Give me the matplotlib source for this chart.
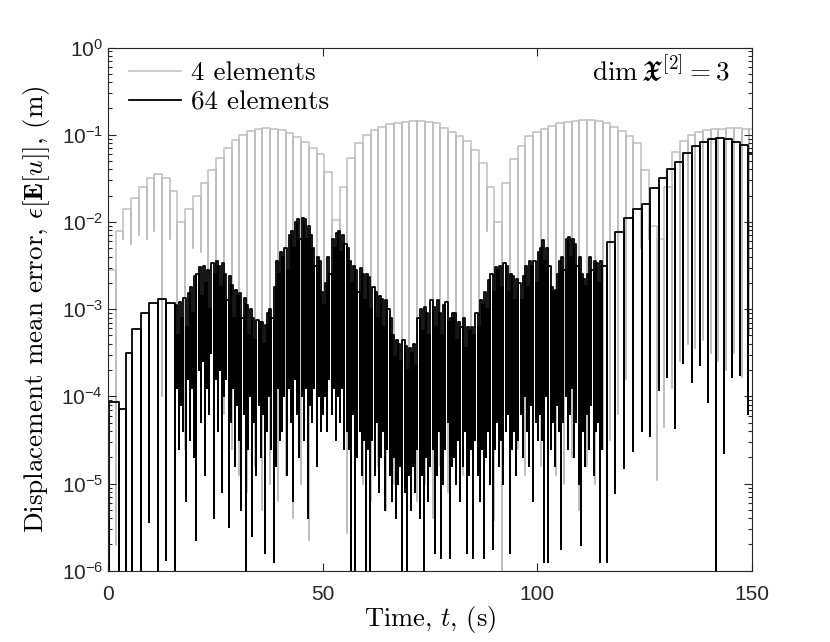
import matplotlib
matplotlib.use("Agg")
import matplotlib.pyplot as plt
import numpy as np

# log10 of the error
# 4 elements: one cap (arch top) and one dip per cycle, cycle length 1.8 s
gray_period = 1.8
gray_caps = [
    -2.55, -2.1, -1.85, -1.72, -1.6, -1.5, -1.45, -1.5, -1.65, -2.0,
    -1.85, -1.7, -1.55, -1.4, -1.27, -1.15, -1.06, -1.0, -0.96, -0.93,
    -0.92, -0.93, -0.95, -0.98, -1.03, -1.08, -1.15, -1.22, -1.43, -1.98,
    -1.6, -1.27, -1.1, -1.0, -0.95, -0.91, -0.88, -0.86, -0.85, -0.84,
    -0.84, -0.85, -0.87, -0.92, -0.97, -1.01, -1.07, -1.17, -1.33, -1.6,
    -2.0, -1.55, -1.28, -1.13, -1.02, -0.97, -0.93, -0.9, -0.87, -0.85,
    -0.84, -0.83, -0.83, -0.84, -0.87, -0.91, -0.96, -1.02, -1.1, -1.4,
    -2.05, -2.2, -1.6, -1.2, -1.07, -1.0, -0.97, -0.95, -0.93, -0.93,
    -0.92, -0.92, -0.93, -0.93,
]
gray_dips = [
    -5.5, -5.7, -2.2, -2.25, -2.15, -2.2, -2.1, -4.0, -2.2, -3.2,
    -4.6, -2.3, -2.35, -2.6, -3.5, -4.2, -4.6, -4.9, -5.1, -4.8,
    -5.3, -5.0, -5.2, -4.9, -5.4, -5.0, -5.65, -4.6, -4.0, -2.2,
    -2.4, -5.57, -4.6, -5.0, -5.2, -4.8, -5.3, -5.0, -5.5, -4.9,
    -5.2, -5.0, -5.4, -4.8, -5.1, -4.7, -4.9, -4.4, -3.2, -2.1,
    -5.42, -6.5, -4.2, -4.6, -4.9, -5.1, -4.8, -5.3, -4.9, -5.0,
    -4.7, -5.3, -4.8, -5.0, -4.6, -4.5, -4.2, -3.8, -3.4, -2.3,
    -2.2, -4.96, -4.35, -3.9, -3.6, -3.4, -3.45, -3.35, -3.5, -3.6,
    -3.7, -3.5, -3.78, -3.3,
]

# 64 elements, first clean arches
black_early_t = [0.0, 0.2, 2.6, 4.3, 5.7, 7.6, 9.6, 11.7, 13.5]
black_early_dips = [-5.4, -6.5, -6.5, -6.5, -6.5, -6.5, -5.44, -6.5, -5.88]
black_early_caps = [-5.4, -4.06, -4.15, -3.5, -3.23, -3.05, -2.93, -2.88, -2.93]

# 64 elements, noisy middle part, one value every 0.5 s from t = 15.6 s
black_mid_start = 15.6
black_mid_step = 0.5
black_mid_caps = [
    -2.95, -3.3, -2.92, -3.1, -2.87, -3.2, -2.82, -2.75, -3.05, -2.62,
    -2.6, -2.52, -2.85, -2.5, -2.7, -2.55, -3.0, -2.47, -2.6, -2.45,
    -2.5, -2.75, -2.47, -2.6, -2.9, -2.62, -2.72, -3.1, -2.78, -2.85,
    -2.82, -3.1, -2.87, -2.95, -3.3, -3.0, -3.1, -3.35, -3.12, -3.15,
    -3.15, -3.4, -3.18, -3.05, -3.0, -3.1, -2.75, -2.45, -2.6, -2.35,
    -2.4, -2.3, -2.55, -2.15, -2.1, -2.3, -2.0, -1.97, -2.2, -1.95,
    -1.97, -2.2, -2.05, -2.15, -2.3, -2.5, -2.4, -2.45, -2.8, -2.95,
    -2.7, -2.4, -2.6, -2.2, -2.3, -2.13, -2.1, -2.35, -2.15, -2.25,
    -2.3, -2.45, -2.7, -2.51, -2.55, -2.8, -2.53, -2.6, -2.9, -2.6,
    -2.63, -3.0, -2.75, -2.8, -3.1, -2.85, -2.88, -3.2, -2.9, -3.0,
    -3.1, -3.3, -3.55, -3.35, -3.4, -3.6, -3.35, -3.42, -3.7, -3.45,
    -3.5, -3.4, -3.65, -3.1, -3.0, -3.25, -2.97, -3.05, -3.3, -2.9,
    -2.97, -3.2, -2.9, -3.05, -3.3, -2.95, -2.92, -3.15, -3.1, -3.05,
    -3.05, -3.35, -3.15, -3.2, -3.1, -3.45, -3.2, -3.25, -3.2, -3.3,
    -3.05, -3.2, -2.9, -2.95, -2.8, -3.0, -2.67, -2.6, -2.8, -2.52,
    -2.55, -2.5, -2.75, -2.47, -2.5, -2.8, -2.6, -2.62, -2.9, -2.65,
    -2.7, -2.9, -2.62, -2.5, -2.75, -2.45, -2.5, -2.45, -2.7, -2.35,
    -2.3, -2.21, -2.45, -2.3, -2.5, -2.75, -2.8, -2.78, -2.6, -2.45,
    -2.4, -2.55, -2.2, -2.17, -2.4, -2.2, -2.25, -2.5, -2.4, -2.6,
    -2.65, -2.74, -2.6, -2.4, -2.55, -2.45, -2.47, -2.7, -2.45, -2.5,
]
black_mid_dips = [
    -6.5, -3.9, -4.6, -4.1, -4.4, -5.2, -3.8, -4.5, -3.9, -4.7,
    -5.65, -3.7, -4.3, -3.6, -4.9, -3.9, -4.2, -3.5, -5.4, -3.8,
    -4.4, -3.7, -5.1, -4.0, -3.8, -5.5, -4.3, -3.9, -4.8, -4.1,
    -4.5, -5.3, -4.2, -6.5, -4.6, -4.0, -5.6, -4.3, -4.9, -4.1,
    -4.7, -4.2, -5.8, -4.4, -4.0, -4.6, -5.9, -4.8, -3.9, -4.5,
    -4.4, -4.0, -4.9, -3.9, -4.3, -5.2, -3.8, -4.2, -4.7, -4.0,
    -4.5, -3.9, -5.4, -4.1, -4.3, -3.9, -4.8, -4.0, -4.4, -4.2,
    -4.0, -4.4, -3.8, -4.2, -3.9, -4.5, -4.0, -4.3, -3.9, -4.6,
    -4.4, -4.6, -6.5, -4.2, -6.5, -4.7, -4.4, -4.9, -4.5, -6.5,
    -4.6, -6.5, -4.5, -4.9, -4.3, -5.1, -4.7, -4.4, -5.3, -4.6,
    -4.9, -5.2, -4.7, -5.4, -5.0, -4.8, -6.5, -5.1, -6.5, -4.9,
    -5.3, -4.8, -5.1, -4.6, -5.4, -4.9, -6.5, -4.7, -5.2, -4.8,
    -4.6, -5.8, -4.9, -4.4, -5.85, -5.0, -4.6, -4.3, -5.85, -4.8,
    -4.7, -5.0, -4.5, -5.2, -4.8, -4.4, -5.8, -4.9, -4.6, -5.85,
    -4.5, -4.9, -5.2, -4.6, -5.85, -4.7, -4.4, -5.0, -5.75, -4.6,
    -4.3, -4.8, -4.5, -5.0, -4.4, -4.2, -5.8, -4.6, -4.4, -4.9,
    -4.5, -4.2, -4.7, -4.0, -4.4, -4.8, -4.1, -5.2, -4.3, -4.5,
    -4.2, -4.5, -5.9, -4.0, -5.9, -4.6, -4.3, -4.8, -4.1, -4.4,
    -5.75, -4.3, -4.0, -4.6, -4.2, -3.9, -4.7, -4.3, -5.0, -5.7,
    -4.4, -4.8, -4.2, -4.6, -4.1, -4.9, -4.4, -4.3, -5.9, -4.6,
]

# 64 elements, clean growing arches at the end
black_end_t = [116.2, 118.1, 120.2, 122.2, 124.3, 126.2, 128.3, 130.2, 132.1,
               134.0, 136.0, 137.9, 139.8, 141.6, 143.5, 145.4, 147.2, 149.0]
black_end_dips = [-5.9, -5.11, -4.82, -4.63, -4.4, -4.46, -3.93, -3.78, -4.36,
                  -3.62, -3.83, -3.64, -4.06, -6.5, -4.65, -3.78, -3.75, -4.2]
black_end_caps = [-2.23, -2.11, -1.96, -1.85, -1.79, -1.61, -1.5, -1.39, -1.31,
                  -1.21, -1.13, -1.08, -1.05, -1.04, -1.05, -1.08, -1.12, -1.21]

t_end = 150.5


def comb(dip_t, dips, caps):
    # each cycle: drop to the dip, then hold the arch top until the next dip
    xs, ys = [], []
    for t, d, c in zip(dip_t, dips, caps):
        xs += [t, t]
        ys += [d, c]
    xs.append(t_end)
    ys.append(caps[-1])
    return np.array(xs), 10.0 ** np.array(ys)


gray_t = np.arange(len(gray_caps)) * gray_period
black_mid_t = black_mid_start + np.arange(len(black_mid_caps)) * black_mid_step

black_t = list(black_early_t) + list(black_mid_t) + black_end_t
black_dips = black_early_dips + black_mid_dips + black_end_dips
black_caps = black_early_caps + black_mid_caps + black_end_caps

plt.rcParams["font.family"] = ["Liberation Sans", "DejaVu Sans"]
serif = dict(family="cmr10", math_fontfamily="cm")
axis_col = "#262626"
fs = 19.5

fig = plt.figure(figsize=(8.3, 6.42), dpi=100)
ax = fig.add_axes([0.130, 0.111, 0.776, 0.815])

gx, gy = comb(gray_t, gray_dips, gray_caps)
bx, by = comb(black_t, black_dips, black_caps)
ax.plot(gx, gy, color="#bfbfbf", lw=1.1, drawstyle="steps-post", label="4 elements", zorder=1)
ax.plot(bx, by, color="black", lw=1.3, drawstyle="steps-post", label="64 elements", zorder=2)

ax.set_yscale("log")
ax.set_xlim(0, 150)
ax.set_ylim(1e-6, 1e0)
ax.set_xticks([0, 50, 100, 150])
ax.set_yticks([1e-6, 1e-5, 1e-4, 1e-3, 1e-2, 1e-1, 1e0])

ax.tick_params(which="both", direction="in", top=True, right=True,
               colors=axis_col, labelsize=15, width=0.8)
ax.tick_params(which="major", length=6)
ax.tick_params(which="minor", length=3)
ax.tick_params(axis="x", pad=10)
for s in ax.spines.values():
    s.set_color(axis_col)
    s.set_linewidth(0.8)

ax.set_xlabel(r"Time, $t$, (s)", fontsize=19, labelpad=0, **serif)
ax.set_ylabel(r"Displacement mean error, $\epsilon[\mathbf{E}[u]]$, (m)",
              fontsize=fs, labelpad=7, **serif)

ax.text(0.965, 0.985, r"$\dim\mathfrak{X}^{[2]} = 3$", transform=ax.transAxes,
        ha="right", va="top", fontsize=fs, math_fontfamily="cm")

ax.legend(loc="upper left", bbox_to_anchor=(0.012, 1.0), frameon=False,
          handlelength=1.9, labelspacing=0.2, borderaxespad=0.1,
          handletextpad=0.4, prop=dict(family="cmr10", size=fs))

fig.savefig("out.png", dpi=100)
